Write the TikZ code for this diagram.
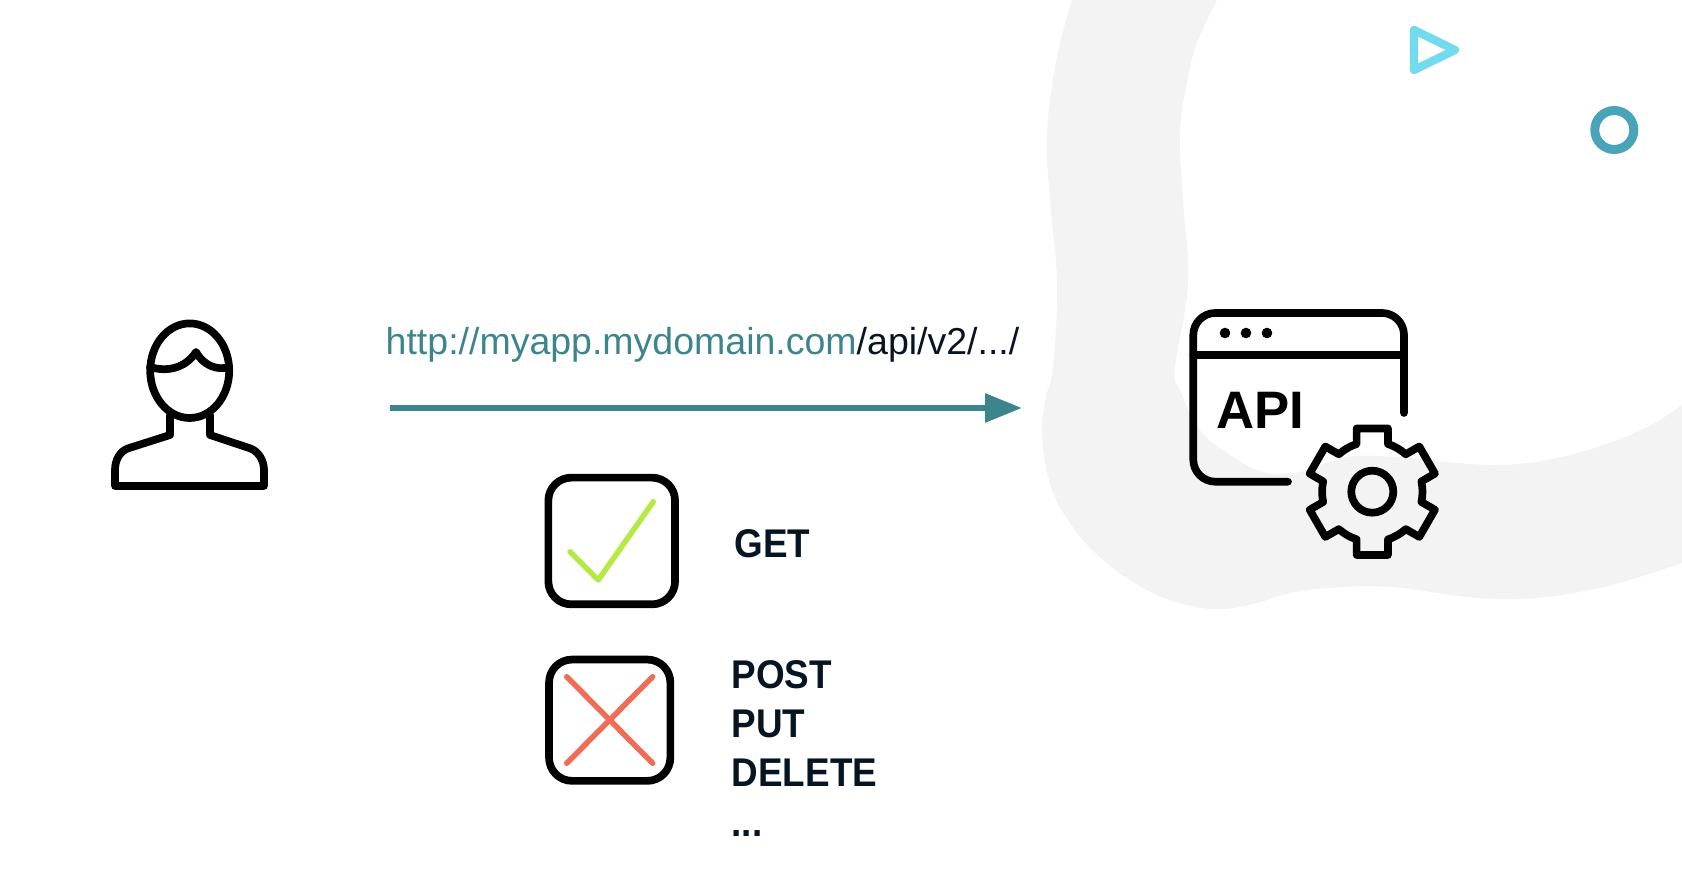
\documentclass[tikz,border=0pt]{standalone}
\usepackage{fontspec}
\setmainfont{Liberation Sans}[BoldFeatures={FakeStretch=0.92}]
\newfontfamily\apifont{Liberation Sans}
\usetikzlibrary{arrows.meta}
\definecolor{blobgrey}{HTML}{F3F3F3}
\definecolor{urlteal}{HTML}{3D858C}
\definecolor{labeldark}{HTML}{061521}
\definecolor{checkgreen}{HTML}{B5E945}
\definecolor{crossred}{HTML}{EF6C57}
\definecolor{triblue}{HTML}{72DCEE}
\definecolor{ringblue}{HTML}{4AA4B9}

\begin{document}
\begin{tikzpicture}[
        icon/.style={draw=black,line width=0.077cm,line join=round,line cap=round},
        mark line/.style={line width=0.055cm,line cap=round,line join=round},
        tickbox/.style={icon,rounded corners=2.3mm,inner sep=0pt},
        method/.style={inner sep=0pt,text=labeldark,font=\fontsize{11.4}{13.95}\selectfont\bfseries},
      ]

      \useasboundingbox (0,0) rectangle (16.82,8.77);

      \fill[blobgrey] plot[smooth,tension=0.7] coordinates {(10.72,8.77) (10.57,8.20) (10.47,7.44) (10.50,6.77) (10.57,5.94) (10.53,5.10) (10.46,4.80) (10.42,4.44) (10.50,3.94) (10.70,3.54) (11.03,3.17) (11.47,2.87) (11.87,2.72) (12.23,2.68) (12.57,2.74) (12.90,2.84) (13.30,2.89) (13.91,2.90) (14.97,2.78) (15.90,2.87) (16.82,3.14)}
        -- plot[smooth,tension=0.7] coordinates {(16.82,4.72) (16.47,4.50) (15.97,4.30) (15.47,4.17) (14.97,4.12) (14.47,4.15) (13.97,4.20) (13.47,4.20) (13.07,4.07) (12.90,4.04) (12.63,4.05) (12.30,4.22) (12.00,4.47) (11.80,4.87) (11.75,5.10) (11.88,5.94) (11.83,6.77) (11.80,7.44) (11.87,7.94) (11.97,8.34) (12.17,8.77)} -- cycle;

      \draw[triblue,line width=0.083cm,line join=round] (14.14,8.47) -- (14.55,8.27) -- (14.14,8.07) -- cycle;
      \draw[ringblue,line width=0.09cm] (16.143,7.47) circle (0.195);

      % person
      \draw[icon] (1.897,5.063) ellipse (0.395 and 0.473);
      \draw[icon] (1.50,5.10) .. controls (1.66,5.05) and (1.85,5.08) .. (1.96,5.25) .. controls (2.03,5.12) and (2.17,5.06) .. (2.293,5.10);
      \draw[icon] (1.70,4.62) -- (1.70,4.42) -- (1.283,4.287) .. controls (1.20,4.26) and (1.15,4.17) .. (1.15,4.07) -- (1.15,3.91) -- (2.64,3.91) -- (2.64,4.07) .. controls (2.64,4.17) and (2.58,4.26) .. (2.50,4.287) -- (2.10,4.42) -- (2.10,4.62);

      \coordinate (reqstart) at (3.90,4.69);
      \coordinate (reqend) at (10.22,4.69);
      \draw[urlteal,line width=0.06cm,-{Triangle[length=3.7mm,width=2.8mm]}] (reqstart) -- (reqend);
      \node (urltext) at (3.85,5.223) [anchor=base west,inner sep=0pt,font=\fontsize{10.67}{12}\selectfont] {\textcolor{urlteal}{http://myapp.mydomain.com}\textcolor{labeldark}{/api/v2/.../}};

      \node (getbox) at (6.117,3.36) [tickbox,minimum size=1.267cm] {};
      \node (crossbox) at (6.097,1.568) [tickbox,minimum size=1.213cm] {};
      \draw[checkgreen,mark line] (5.70,3.253) -- (5.983,2.97) -- (6.533,3.753);
      \draw[crossred,mark line] (5.667,2.003) -- (6.527,1.137);
      \draw[crossred,mark line] (6.527,2.003) -- (5.667,1.137);

      \node (gettext) at (7.34,3.193) [method,anchor=base west] {GET};
      \node (blockedtext) at (7.31,0.41) [method,anchor=base west,align=left] {POST\\PUT\\DELETE\\...};

      % api window
      \draw[icon,rounded corners=2.2mm] (14.04,4.64) -- (14.04,5.64) -- (11.933,5.64) -- (11.933,3.953) -- (12.88,3.953);
      \draw[icon] (11.933,5.22) -- (14.04,5.22);
      \foreach \x in {12.25,12.46,12.67}
        \fill (\x,5.44) circle (0.053);
      \node (apitext) at (12.16,4.48) [anchor=base west,inner sep=0pt,font=\fontsize{15}{18}\selectfont\apifont\bfseries] {API};

      \begin{scope}[shift={(13.723,3.853)}]
        \draw[icon] (108.2:0.502) \foreach \a in {90,30,-30,-90,-150,-210} {
          -- (\a+13.9:0.652) -- (\a-13.9:0.652) -- (\a-18.2:0.502) arc[start angle=\a-18.2,end angle=\a-41.8,radius=0.502]
        } -- cycle;
        \draw[icon] (0,0) circle (0.21);
      \end{scope}

    \end{tikzpicture}
\end{document}
